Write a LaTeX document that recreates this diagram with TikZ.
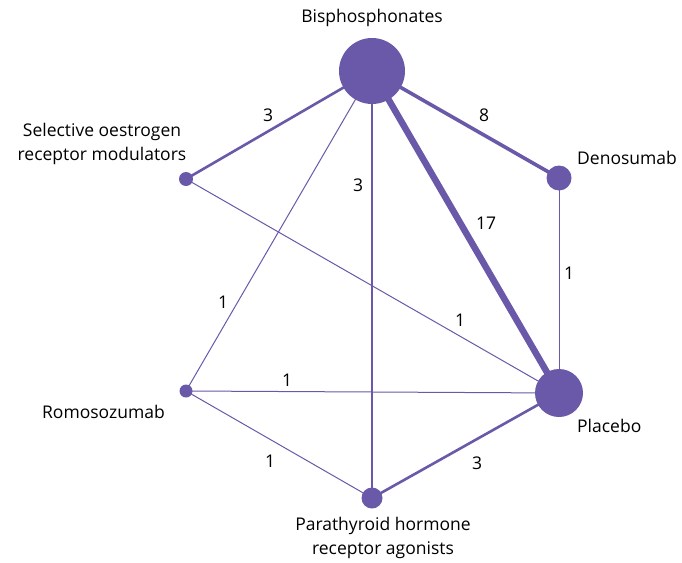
\documentclass[tikz,border=0pt]{standalone}
\usepackage{fontspec}
\setmainfont{Open Sans}
\definecolor{netpurple}{RGB}{106,88,168}
\begin{document}
\begin{tikzpicture}[x=1pt,y=-1pt,
  trt/.style={circle,fill=netpurple,draw=none,inner sep=0pt},
  edgeA/.style={draw=netpurple,line width=1pt},
  edgeB/.style={draw=netpurple,line width=2.6pt},
  edgeC/.style={draw=netpurple,line width=3.6pt},
  edgeD/.style={draw=netpurple,line width=6.5pt},
  lab/.style={font=\fontsize{17.5}{24}\selectfont,text=black,inner sep=0pt},
  num/.style={font=\fontsize{17.5}{24}\selectfont,text=black,inner sep=0pt}]
\useasboundingbox (0,0) rectangle (682,562);
\coordinate (bis) at (372,71);
\coordinate (den) at (559,178);
\coordinate (pla) at (559,393);
\coordinate (pth) at (372,498);
\coordinate (rom) at (186,391);
\coordinate (serm) at (186,179);
\draw[edgeA] (serm) -- (pla);
\draw[edgeA] (den) -- (pla);
\draw[edgeA] (rom) -- (pla);
\draw[edgeA] (rom) -- (pth);
\draw[edgeA] (bis) -- (rom);
\draw[edgeB] (bis) -- (serm);
\draw[edgeB] (bis) -- (pth);
\draw[edgeB] (pth) -- (pla);
\draw[edgeC] (bis) -- (den);
\draw[edgeD] (bis) -- (pla);
\node[trt,minimum size=66pt] (nbis) at (bis) {};
\node[trt,minimum size=25pt] (nden) at (den) {};
\node[trt,minimum size=48pt] (npla) at (pla) {};
\node[trt,minimum size=21pt] (npth) at (pth) {};
\node[trt,minimum size=13pt] (nrom) at (rom) {};
\node[trt,minimum size=14pt] (nserm) at (serm) {};
\node[lab] (tbis) at (372,18) {Bisphosphonates};
\node[lab,align=center] (tserm) at (102,144) {Selective oestrogen\\receptor modulators};
\node[lab,anchor=west] (tden) at (577,158) {Denosumab};
\node[lab,anchor=west] (tpla) at (577,426) {Placebo};
\node[lab,anchor=east] (trom) at (165,412) {Romosozumab};
\node[lab,align=center] (tpth) at (383,538) {Parathyroid hormone\\receptor agonists};
\node[num] (n1) at (268,115) {3};
\node[num] (n2) at (484,115) {8};
\node[num] (n3) at (358,185) {3};
\node[num] (n4) at (486,223) {17};
\node[num] (n5) at (569,273) {1};
\node[num] (n6) at (223,302) {1};
\node[num] (n7) at (460,320) {1};
\node[num] (n8) at (287,380) {1};
\node[num] (n9) at (270,461) {1};
\node[num] (n10) at (477,463) {3};
\end{tikzpicture}
\end{document}
